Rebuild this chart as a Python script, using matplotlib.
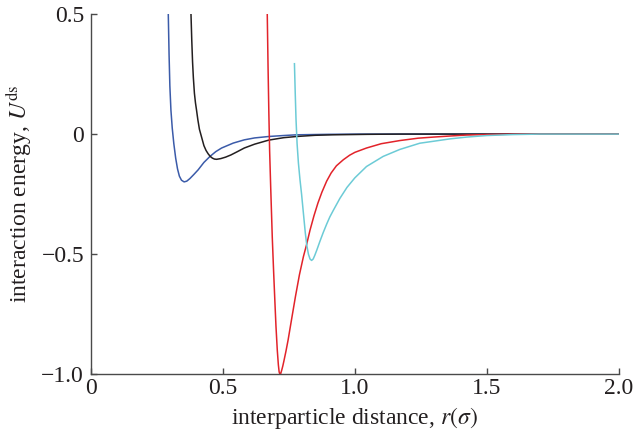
import matplotlib
matplotlib.use("Agg")
import matplotlib.pyplot as plt

plt.rcParams['font.family'] = ['Liberation Serif', 'DejaVu Serif']
plt.rcParams['mathtext.fontset'] = 'stix'

# curves: (r, U)
blue_r = [0.293, 0.296, 0.299, 0.303, 0.308, 0.314, 0.321, 0.328, 0.335, 0.343, 0.353, 0.363,
          0.375, 0.390, 0.406, 0.428, 0.451, 0.473, 0.495, 0.539, 0.581, 0.62, 0.674, 0.73,
          0.779, 0.90, 1.02, 2.0]
blue_u = [0.50, 0.33, 0.20, 0.10, 0.025, -0.04, -0.10, -0.145, -0.175, -0.192, -0.199, -0.196,
          -0.185, -0.168, -0.149, -0.118, -0.093, -0.073, -0.058, -0.0375, -0.024, -0.016,
          -0.010, -0.006, -0.003, -0.001, 0.0, 0.0]

black_r = [0.379, 0.382, 0.385, 0.388, 0.392, 0.396, 0.400, 0.405, 0.411, 0.419, 0.428, 0.436,
           0.444, 0.452, 0.460, 0.468, 0.476, 0.492, 0.510, 0.530, 0.555, 0.581, 0.62, 0.674,
           0.73, 0.779, 0.85, 0.917, 1.05, 1.17, 2.0]
black_u = [0.50, 0.39, 0.30, 0.235, 0.17, 0.13, 0.10, 0.06, 0.02, -0.012, -0.048, -0.068,
           -0.082, -0.093, -0.100, -0.104, -0.105, -0.102, -0.096, -0.087, -0.073, -0.058,
           -0.042, -0.025, -0.015, -0.010, -0.005, -0.003, -0.001, 0.0, 0.0]

red_r = [0.668, 0.671, 0.674, 0.677, 0.681, 0.687, 0.692, 0.697, 0.701, 0.706, 0.710, 0.713,
         0.716, 0.719, 0.723, 0.727, 0.731, 0.739, 0.747, 0.760, 0.775, 0.790, 0.805, 0.817,
         0.830, 0.845, 0.860, 0.875, 0.893, 0.910, 0.930, 0.956, 0.98, 1.00, 1.044, 1.10,
         1.17, 1.24, 1.297, 1.36, 1.423, 1.5, 1.625, 2.0]
red_u = [0.50, 0.28, 0.09, -0.07, -0.22, -0.43, -0.57, -0.70, -0.80, -0.90, -0.96, -0.99,
         -1.0, -0.997, -0.982, -0.965, -0.945, -0.903, -0.857, -0.772, -0.675, -0.585, -0.510,
         -0.460, -0.400, -0.340, -0.287, -0.242, -0.196, -0.162, -0.132, -0.107, -0.088,
         -0.076, -0.058, -0.040, -0.027, -0.017, -0.0125, -0.008, -0.004, -0.002, 0.0, 0.0]

cyan_r = [0.771, 0.774, 0.777, 0.781, 0.786, 0.792, 0.798, 0.805, 0.812, 0.818, 0.824, 0.830,
          0.836, 0.842, 0.848, 0.856, 0.867, 0.880, 0.893, 0.905, 0.918, 0.943, 0.97, 1.00,
          1.044, 1.107, 1.170, 1.246, 1.297, 1.36, 1.423, 1.5, 1.6, 1.7, 2.0]
cyan_u = [0.293, 0.17, 0.06, -0.04, -0.12, -0.19, -0.25, -0.33, -0.41, -0.465, -0.500, -0.520,
          -0.526, -0.520, -0.505, -0.482, -0.448, -0.41, -0.375, -0.345, -0.318, -0.268,
          -0.222, -0.182, -0.135, -0.093, -0.064, -0.038, -0.030, -0.020, -0.0125, -0.006,
          -0.002, 0.0, 0.0]

x_ticks = [0, 0.5, 1.0, 1.5, 2.0]
x_labels = ['0', '0.5', '1.0', '1.5', '2.0']
y_ticks = [-1.0, -0.5, 0, 0.5]
y_labels = ['\u22121.0', '\u22120.5', '0', '0.5']

fig = plt.figure(figsize=(6.36, 4.37), dpi=100)
ax = fig.add_axes([0.143, 0.1435, 0.830, 0.8245])

ax.plot(blue_r, blue_u, color='#3b5ba9', lw=1.1)
ax.plot(black_r, black_u, color='#231f20', lw=1.1)
ax.plot(red_r, red_u, color='#e2232a', lw=1.1)
ax.plot(cyan_r, cyan_u, color='#6ccbd6', lw=1.1)

ax.set_xlim(0, 2.0)
ax.set_ylim(-1.0, 0.5)
ax.set_xticks(x_ticks)
ax.set_xticklabels(x_labels)
ax.set_yticks(y_ticks)
ax.set_yticklabels(y_labels)

for s in ['top', 'right']:
    ax.spines[s].set_visible(False)
for s in ['left', 'bottom']:
    ax.spines[s].set_color('#4a4a4a')
    ax.spines[s].set_linewidth(1.0)
ax.tick_params(direction='in', length=4, width=1.0, color='#4a4a4a',
               labelsize=17, labelcolor='#231f20')
ax.tick_params(axis='x', pad=3)
ax.tick_params(axis='y', pad=5)

ax.set_xlabel('interparticle distance, $r(\\sigma)$', fontsize=17, color='#231f20', labelpad=4)
ax.set_ylabel('interaction energy, $U^{\\mathrm{ds}}$', fontsize=17, color='#231f20', labelpad=5)

fig.savefig('out.png', dpi=100)
